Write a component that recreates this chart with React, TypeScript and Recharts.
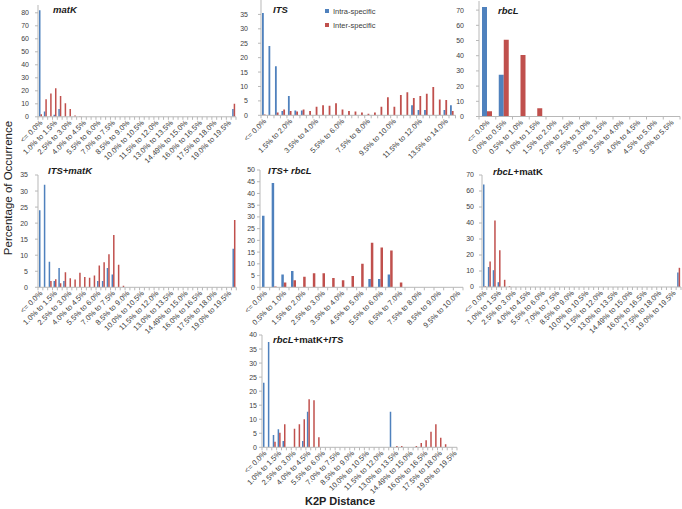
import React from "react";
import { BarChart, Bar, XAxis, YAxis, Legend } from "recharts";

// K2P distance bins (x categories), shared by every panel
const k2pBins = [
  "<= 0.0%", "0.0% to 0.5%", "0.5% to 1.0%", "1.0% to 1.5%", "1.5% to 2.0%",
  "2.0% to 2.5%", "2.5% to 3.0%", "3.0% to 3.5%", "3.5% to 4.0%", "4.0% to 4.5%",
  "4.5% to 5.0%", "5.0% to 5.5%", "5.5% to 6.0%", "6.0% to 6.5%", "6.5% to 7.0%",
  "7.0% to 7.5%", "7.5% to 8.0%", "8.0% to 8.5%", "8.5% to 9.0%", "9.0% to 9.5%",
  "9.5% to 10.0%", "10.0% to 10.5%", "10.5% to 11.0%", "11.0% to 11.5%", "11.5% to 12.0%",
  "12.0% to 12.5%", "12.5% to 13.0%", "13.0% to 13.5%", "13.5% to 14.0%", "14.0% to 14.5%",
  "14.49% to 15.0%", "15.0% to 15.5%", "15.5% to 16.0%", "16.0% to 16.5%", "16.5% to 17.0%",
  "17.0% to 17.5%", "17.5% to 18.0%", "18.0% to 18.5%", "18.5% to 19.0%", "19.0% to 19.5%",
  "19.5% to 20.0%",
];

// matK
const matKIntra = [
  82, 4, 0, 1.5, 6, 0, 0, 0, 0, 0,
  0, 0, 0, 0, 0, 0, 0, 0, 0, 0,
  0, 0, 0, 0, 0, 0, 0, 0, 0, 0,
  0, 0, 0, 0, 0, 0, 0, 0, 0, 0,
  6,
];
const matKInter = [
  2, 13.5, 18, 22, 16, 10.5, 6, 1, 0.5, 0,
  0, 0, 0, 0, 0, 0, 0, 0, 0, 0,
  0, 0, 0, 0, 0, 0, 0, 0, 0, 0,
  0, 0, 0, 0, 0, 0, 0, 0, 0, 0,
  10,
];

// ITS
const itsIntra = [
  35.5, 24, 17, 1.5, 6.7, 1.7, 1.7, 0, 0, 0,
  0, 0, 0, 0, 0, 0, 0, 0, 0, 0,
  0, 0, 0, 3.5, 1.8, 1.8, 0, 0, 1.8, 3.5,
];
const itsInter = [
  0.3, 0, 1, 2, 1.5, 1.3, 2, 1.5, 3, 3.5,
  3.3, 4.2, 2, 1.5, 1.3, 1, 0.5, 1, 3, 6.3,
  3, 7, 8, 6, 6.7, 7.5, 9.8, 5.5, 5.3, 1.5,
];

// rbcL
const rbcLIntra = [72, 27.5, 0, 0, 0, 0, 0, 0, 0, 0, 0, 0];
const rbcLInter = [3.5, 50.5, 40.5, 5.5, 0, 0, 0, 0, 0, 0, 0, 0];

// ITS+matK
const itsMatKIntra = [
  24, 32, 8, 2, 6, 2, 0, 0, 0, 0,
  0, 0, 2, 2, 6, 4, 0, 0, 0, 0,
  0, 0, 0, 0, 0, 0, 0, 0, 0, 0,
  0, 0, 0, 0, 0, 0, 0, 0, 0, 0,
  12,
];
const itsMatKInter = [
  0, 0, 2, 2.5, 1.3, 4.7, 2.8, 2.4, 4.5, 3.2,
  3, 3.7, 6.8, 7.8, 10.3, 16.3, 7, 0.5, 0, 0,
  0, 0, 0, 0, 0, 0, 0, 0, 0, 0,
  0, 0, 0, 0, 0, 0, 0, 0, 0, 0,
  21,
];

// ITS+rbcL
const itsRbcLIntra = [30.5, 44.5, 5.5, 7, 0, 0, 0, 0, 0, 0, 0, 3.5, 3.5, 5.5, 0, 0, 0, 0, 0, 0, 0];
const itsRbcLInter = [0, 0.3, 2, 3, 4.5, 6, 6, 4, 3, 4.8, 10, 19, 17, 15.7, 2, 0, 0, 0, 0, 0, 0];

// rbcL+matK
const rbcLMatKIntra = [
  64, 12.5, 10.5, 3, 0, 0, 0, 0, 0, 0,
  0, 0, 0, 0, 0, 0, 0, 0, 0, 0,
  0, 0, 0, 0, 0, 0, 0, 0, 0, 0,
  0, 0, 0, 0, 0, 0, 0, 0, 0, 0,
  9,
];
const rbcLMatKInter = [
  0.5, 16, 41.5, 23, 4.5, 0.5, 0, 0, 0, 0,
  0, 0, 0, 0, 0, 0, 0, 0, 0, 0,
  0, 0, 0, 0, 0, 0, 0, 0, 0, 0,
  0, 0, 0, 0, 0, 0, 0, 0, 0, 0,
  12,
];

// rbcL+matK+ITS
const tripleIntra = [
  23, 37.5, 4.4, 6.4, 2.2, 0, 0, 0, 2.2, 12.7,
  0, 0, 0, 0, 0, 0, 0, 0, 0, 0,
  0, 0, 0, 0, 0, 0, 12.7, 0, 0, 0,
  0, 0, 0, 0, 0, 0, 0, 0, 0, 0,
];
const tripleInter = [
  0, 0, 2, 5.2, 8.2, 0, 6.6, 8.2, 10, 17.1,
  16.8, 3.6, 0, 0, 0, 0, 0, 0, 0, 0,
  0, 0, 0, 0, 0, 0, 0, 0.5, 0.5, 0,
  0, 0.5, 1.5, 2.5, 5.5, 8.2, 3.4, 1.1, 0, 0,
];

const ticks80 = [0, 10, 20, 30, 40, 50, 60, 70, 80];
const ticks70 = [0, 10, 20, 30, 40, 50, 60, 70];
const ticks35 = [0, 5, 10, 15, 20, 25, 30, 35];
const ticks40 = [0, 5, 10, 15, 20, 25, 30, 35, 40];
const ticks50 = [0, 5, 10, 15, 20, 25, 30, 35, 40, 45, 50];

const BLUE = "#4F81BD";
const RED = "#C0504D";
const AXIS = "#b8b8b8";
const TEXT = "#404040";
const FONT = '"Liberation Sans", Arial, sans-serif';

const Y_W = 34;
const TOP = 6;
const RIGHT = 6;
const X_H = 62;

const seriesOrder = ["intra", "inter"];

function BinTick({ x, y, payload, index, every, band, count }: any) {
  const left = x - band / 2;
  return (
    <g>
      <line x1={left} x2={left} y1={y} y2={y + 3} stroke={AXIS} />
      {index === count - 1 && (
        <line x1={x + band / 2} x2={x + band / 2} y1={y} y2={y + 3} stroke={AXIS} />
      )}
      {index % every === 0 && (
        <text
          x={x + 1}
          y={y + 5}
          transform={`rotate(-45, ${x + 1}, ${y + 5})`}
          textAnchor="end"
          dy="0.3em"
          fontSize={7.5}
          fontFamily={FONT}
          fill={TEXT}
        >
          {payload.value}
        </text>
      )}
    </g>
  );
}

function LegendBox({ payload }: any) {
  const items = [...(payload || [])].sort(
    (a: any, b: any) => seriesOrder.indexOf(a.dataKey) - seriesOrder.indexOf(b.dataKey)
  );
  return (
    <div style={{ fontFamily: FONT, fontSize: 7.5, color: TEXT }}>
      {items.map((e: any) => (
        <div key={e.value} style={{ display: "flex", alignItems: "center", height: 14, whiteSpace: "nowrap" }}>
          <span style={{ width: 4.5, height: 4.5, background: e.color, marginRight: 4 }} />
          {e.value}
        </div>
      ))}
    </div>
  );
}

type PanelProps = {
  bins: string[];
  intra: number[];
  inter: number[];
  x0: number;
  x1: number;
  yTop: number;
  yZero: number;
  yMax: number;
  yTicks: number[];
  every: number;
  labelGap: number;
  barW: number;
  legend?: boolean;
};

function Panel(p: PanelProps) {
  const n = p.bins.length;
  const band = (p.x1 - p.x0) / n;
  const data = p.bins.map((bin, i) => ({ bin, intra: p.intra[i], inter: p.inter[i] }));
  const w = Y_W + (p.x1 - p.x0) + RIGHT;
  const h = TOP + (p.yZero - p.yTop) + X_H;
  return (
    <div style={{ position: "absolute", left: p.x0 - Y_W, top: p.yTop - TOP }}>
      <BarChart
        width={w}
        height={h}
        data={data}
        margin={{ top: TOP, right: RIGHT, left: 0, bottom: 0 }}
        barGap={0}
      >
        <XAxis
          dataKey="bin"
          interval={0}
          height={X_H}
          tickSize={0}
          tickMargin={0}
          tickLine={false}
          axisLine={{ stroke: AXIS }}
          tick={(props: any) => <BinTick {...props} every={p.every} band={band} count={n} />}
        />
        <YAxis
          width={Y_W}
          domain={[0, p.yMax]}
          ticks={p.yTicks}
          interval={0}
          allowDataOverflow
          tickSize={3}
          tickMargin={p.labelGap}
          axisLine={{ stroke: AXIS }}
          tickLine={{ stroke: AXIS }}
          tick={{ fontSize: 7, fill: TEXT, fontFamily: FONT }}
        />
        {p.legend && (
          <Legend
            layout="horizontal"
            verticalAlign="middle"
            align="center"
            wrapperStyle={{ left: 98, top: 10, width: 80 }}
            content={(props: any) => <LegendBox payload={props.payload} />}
          />
        )}
        <Bar dataKey="intra" name="Intra-specific" fill={BLUE} barSize={p.barW} isAnimationActive={false} />
        <Bar dataKey="inter" name="Inter-specific" fill={RED} barSize={p.barW} isAnimationActive={false} />
      </BarChart>
    </div>
  );
}

export default function App() {
  const title = { fontFamily: FONT, fontSize: 9.5, fontWeight: 700, fill: "#1a1a1a" } as const;
  return (
    <div style={{ position: "absolute", left: 0, top: 0, width: 682, height: 509, background: "#fff", overflow: "hidden" }}>
      <Panel bins={k2pBins} intra={matKIntra} inter={matKInter}
        x0={38} x1={236} yTop={4.5} yZero={116.3} yMax={86} yTicks={ticks80}
        every={3} labelGap={6} barW={1.5} />
      <Panel bins={k2pBins.slice(0, 30)} intra={itsIntra} inter={itsInter}
        x0={260.5} x1={455} yTop={0} yZero={115.3} yMax={40} yTicks={ticks35}
        every={4} labelGap={10} barW={1.8} legend />
      <Panel bins={k2pBins.slice(0, 12)} intra={rbcLIntra} inter={rbcLInter}
        x0={479} x1={680} yTop={0.8} yZero={116.3} yMax={76} yTicks={ticks70}
        every={1} labelGap={12} barW={5} />
      <Panel bins={k2pBins} intra={itsMatKIntra} inter={itsMatKInter}
        x0={37.7} x1={236} yTop={175} yZero={287.3} yMax={35} yTicks={ticks35}
        every={3} labelGap={7} barW={1.5} />
      <Panel bins={k2pBins.slice(0, 21)} intra={itsRbcLIntra} inter={itsRbcLInter}
        x0={259.5} x1={462.5} yTop={170} yZero={287.3} yMax={50} yTicks={ticks50}
        every={2} labelGap={2} barW={2.5} />
      <Panel bins={k2pBins} intra={rbcLMatKIntra} inter={rbcLMatKInter}
        x0={482} x1={681} yTop={175} yZero={287} yMax={70} yTicks={ticks70}
        every={3} labelGap={5} barW={1.5} />
      <Panel bins={k2pBins.slice(0, 40)} intra={tripleIntra} inter={tripleInter}
        x0={261.7} x1={456.7} yTop={335} yZero={447.3} yMax={40} yTicks={ticks40}
        every={3} labelGap={2} barW={1.5} />

      <svg width={682} height={509} style={{ position: "absolute", left: 0, top: 0, pointerEvents: "none" }}>
        <text x={53} y={13} {...title} fontStyle="italic">matK</text>
        <text x={273} y={13} {...title} fontStyle="italic">ITS</text>
        <text x={498} y={14} {...title} fontStyle="italic">rbcL</text>
        <text x={48} y={174} {...title} fontStyle="italic">ITS+matK</text>
        <text x={268} y={173.5} {...title} fontStyle="italic">ITS+ rbcL</text>
        <text x={493} y={174.5} {...title}>
          <tspan fontStyle="italic">rbcL</tspan>
          <tspan>+matK</tspan>
        </text>
        <text x={273} y={342.5} {...title}>
          <tspan fontStyle="italic">rbcL</tspan>
          <tspan>+matK+</tspan>
          <tspan fontStyle="italic">ITS</tspan>
        </text>
        <text
          x={12}
          y={188}
          transform="rotate(-90, 12, 188)"
          textAnchor="middle"
          fontFamily={FONT}
          fontSize={11.5}
          fill="#222"
        >
          Percentage of Occurrence
        </text>
        <text x={340} y={505} textAnchor="middle" fontFamily={FONT} fontSize={11} fontWeight={700} fill="#222">
          K2P Distance
        </text>
      </svg>
    </div>
  );
}
